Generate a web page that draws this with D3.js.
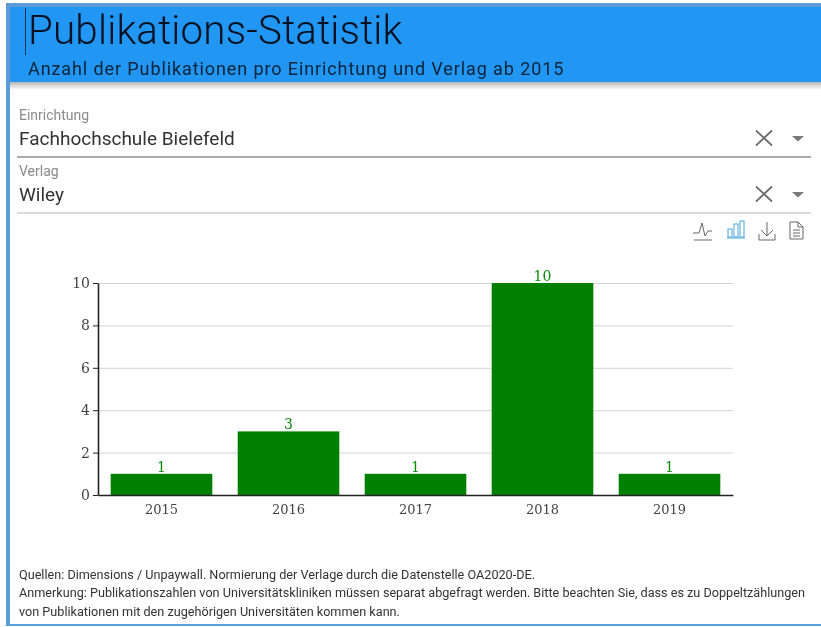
<!DOCTYPE html>
<html>
<head>
<meta charset="utf-8">
<script src="https://cdnjs.cloudflare.com/ajax/libs/d3/7.8.5/d3.min.js"></script>
<style>
  html, body { margin: 0; padding: 0; background: #fff; overflow: hidden; }
  svg { display: block; filter: blur(0.5px); font-family: Roboto, sans-serif; }
</style>
</head>
<body>
<div id="chart"></div>
<script>
const years = ["2015", "2016", "2017", "2018", "2019"];
const counts = [1, 3, 1, 10, 1];
const yTicks = [0, 2, 4, 6, 8, 10];

const title = "Publikations-Statistik";
const subtitle = "Anzahl der Publikationen pro Einrichtung und Verlag ab 2015";
const fields = [
  { label: "Einrichtung", value: "Fachhochschule Bielefeld" },
  { label: "Verlag", value: "Wiley" },
];
const notes = [
  "Quellen: Dimensions / Unpaywall. Normierung der Verlage durch die Datenstelle OA2020-DE.",
  "Anmerkung: Publikationszahlen von Universitätskliniken müssen separat abgefragt werden. Bitte beachten Sie, dass es zu Doppeltzählungen",
  "von Publikationen mit den zugehörigen Universitäten kommen kann.",
];

const blue = "#2196f3";
const width = 821, height = 627;

const svg = d3.select("#chart").append("svg")
  .attr("width", width)
  .attr("height", height);

// shadow under the header
const defs = svg.append("defs");
const grad = defs.append("linearGradient")
  .attr("id", "shadow").attr("x1", 0).attr("x2", 0).attr("y1", 0).attr("y2", 1);
grad.append("stop").attr("offset", 0).attr("stop-color", "#000").attr("stop-opacity", 0.28);
grad.append("stop").attr("offset", 1).attr("stop-color", "#000").attr("stop-opacity", 0);

// page frame
svg.append("rect").attr("x", 6).attr("y", 3).attr("width", 815).attr("height", 5).attr("fill", "#5a9bd8");
svg.append("rect").attr("x", 6).attr("y", 3).attr("width", 4).attr("height", 622).attr("fill", "#5a9bd8");
svg.append("rect").attr("x", 6).attr("y", 624).attr("width", 815).attr("height", 2).attr("fill", "#5a9bd8");

// header
svg.append("rect").attr("x", 10).attr("y", 7).attr("width", 811).attr("height", 75).attr("fill", blue);
svg.append("rect").attr("x", 10).attr("y", 82).attr("width", 811).attr("height", 8).attr("fill", "url(#shadow)");
svg.append("line")
  .attr("x1", 25.5).attr("x2", 25.5).attr("y1", 8).attr("y2", 55)
  .attr("stroke", "#12304f").attr("stroke-width", 1);
svg.append("text")
  .attr("x", 28).attr("y", 44)
  .attr("font-size", 40.3).attr("font-weight", 300).attr("letter-spacing", 0.2).attr("fill", "#021020")
  .text(title);
svg.append("text")
  .attr("x", 28).attr("y", 75)
  .attr("font-size", 18).attr("letter-spacing", 0.9).attr("fill", "#0b2238")
  .text(subtitle);

// filter fields
const fieldTop = [120, 176];
const fieldLine = [157, 213];
const lineColors = ["#8c8c8c", "#cfcfcf"];
fields.forEach((f, i) => {
  svg.append("text")
    .attr("x", 19).attr("y", fieldTop[i])
    .attr("font-size", 14).attr("fill", "#8a8a8a")
    .text(f.label);
  svg.append("text")
    .attr("x", 19).attr("y", fieldTop[i] + 25)
    .attr("font-size", 19).attr("fill", "#333")
    .text(f.value);
  svg.append("line")
    .attr("x1", 17).attr("x2", 811).attr("y1", fieldLine[i]).attr("y2", fieldLine[i])
    .attr("stroke", lineColors[i]).attr("stroke-width", 1.3);
  // clear button
  const cy = fieldTop[i] + 18;
  svg.append("path")
    .attr("d", `M756,${cy - 7.5}L772,${cy + 7.5}M772,${cy - 7.5}L756,${cy + 7.5}`)
    .attr("stroke", "#6b6b6b").attr("stroke-width", 1.8).attr("fill", "none");
  // dropdown arrow
  svg.append("path")
    .attr("d", `M792,${cy - 2}L804,${cy - 2}L798,${cy + 3.5}Z`)
    .attr("fill", "#7a7a7a");
});

// toolbox icons
const toolbox = svg.append("g").attr("fill", "none").attr("stroke", "#666").attr("stroke-width", 1);
toolbox.append("path").attr("d", "M693,233H699L702,223L705,236L708,231H712M694,240H712");
const barIcon = toolbox.append("g").attr("stroke", "#4aa3d9");
barIcon.append("path").attr("d", "M727,238H745");
barIcon.append("rect").attr("x", 728).attr("y", 229).attr("width", 4).attr("height", 8);
barIcon.append("rect").attr("x", 734).attr("y", 224).attr("width", 4).attr("height", 13);
barIcon.append("rect").attr("x", 740).attr("y", 221).attr("width", 4).attr("height", 16);
toolbox.append("path").attr("d", "M767,222V236M761,230L767,236L773,230M759,234V240H775V234");
toolbox.append("path").attr("d", "M790,222H798L803,227V239H790ZM798,222V227H803M793,230H800M793,233H800M793,236H800");

// chart
const margin = { top: 283, right: 88, bottom: 132, left: 98 };
const x = d3.scaleBand()
  .domain(years)
  .range([margin.left, width - margin.right])
  .paddingInner(0.2)
  .paddingOuter(0.1);
const y = d3.scaleLinear()
  .domain([0, 10])
  .range([height - margin.bottom, margin.top]);

const chartFont = "'DejaVu Serif', serif";

// gridlines
svg.append("g")
  .selectAll("line")
  .data(yTicks.filter((d) => d > 0))
  .join("line")
  .attr("x1", margin.left)
  .attr("x2", width - margin.right)
  .attr("y1", (d) => y(d) + 0.5)
  .attr("y2", (d) => y(d) + 0.5)
  .attr("stroke", "#d4d4d4");

// bars
svg.append("g")
  .selectAll("rect")
  .data(counts)
  .join("rect")
  .attr("x", (d, i) => x(years[i]))
  .attr("y", (d) => y(d))
  .attr("width", x.bandwidth())
  .attr("height", (d) => y(0) - y(d))
  .attr("fill", "#008000");

// value labels
svg.append("g")
  .selectAll("text")
  .data(counts)
  .join("text")
  .attr("x", (d, i) => x(years[i]) + x.bandwidth() / 2)
  .attr("y", (d) => y(d) - 2)
  .attr("text-anchor", "middle")
  .attr("font-family", chartFont)
  .attr("font-size", 14)
  .attr("fill", "#0a8a0a")
  .text((d) => d);

// axes
const xAxis = svg.append("g")
  .attr("transform", `translate(0,${y(0)})`)
  .call(d3.axisBottom(x).tickSize(0).tickPadding(10));
xAxis.select(".domain").attr("stroke", "#222").attr("stroke-width", 1.6);
xAxis.selectAll("text").attr("font-family", chartFont).attr("font-size", 13).attr("fill", "#444");

const yAxis = svg.append("g")
  .attr("transform", `translate(${margin.left},0)`)
  .call(d3.axisLeft(y).tickValues(yTicks).tickSize(5).tickPadding(3).tickSizeOuter(0));
yAxis.select(".domain").attr("stroke", "#222").attr("stroke-width", 1.6);
yAxis.selectAll("line").attr("stroke", "#222");
yAxis.selectAll("text").attr("font-family", chartFont).attr("font-size", 14).attr("fill", "#444");

// footnotes
const noteY = [579, 597, 616];
svg.append("g")
  .selectAll("text")
  .data(notes)
  .join("text")
  .attr("x", 19)
  .attr("y", (d, i) => noteY[i])
  .attr("font-size", 12.65)
  .attr("fill", "#333")
  .text((d) => d);
</script>
</body>
</html>
